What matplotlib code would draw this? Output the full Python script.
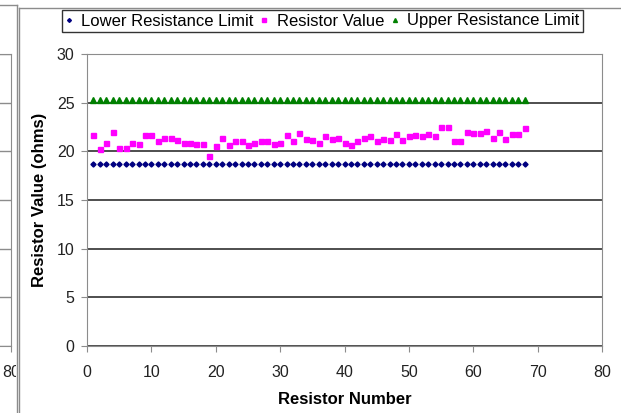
import numpy as np
import matplotlib
matplotlib.use("Agg")
import matplotlib.pyplot as plt
from matplotlib.lines import Line2D
from matplotlib.transforms import Bbox, TransformedBbox

plt.rcParams['font.family'] = ['Liberation Sans', 'DejaVu Sans']

# measured resistors, nominal 22 ohms with +/-15% limits
resistor_number = np.arange(1, 69)
resistor_value = [21.7, 20.2, 20.9, 22.0, 20.35, 20.35, 20.9, 20.75, 21.7, 21.7,
                  21.1, 21.4, 21.4, 21.2, 20.85, 20.85, 20.75, 20.75, 19.5, 20.5,
                  21.4, 20.65, 21.05, 21.1, 20.7, 20.9, 21.1, 21.05, 20.75, 20.85,
                  21.65, 21.05, 21.85, 21.25, 21.15, 20.9, 21.6, 21.3, 21.4, 20.9,
                  20.7, 21.05, 21.35, 21.6, 21.05, 21.25, 21.15, 21.75, 21.15, 21.6,
                  21.7, 21.6, 21.75, 21.6, 22.45, 22.45, 21.1, 21.05, 22.0, 21.85,
                  21.85, 22.1, 21.35, 22.0, 21.3, 21.75, 21.75, 22.35]
lower_limit = [18.7] * 68
upper_limit = [25.3] * 68

x_ticks = [0, 10, 20, 30, 40, 50, 60, 70, 80]
y_ticks = [0, 5, 10, 15, 20, 25, 30]

W, H = 621, 413
grid_col = '#1e1e1e'
frame_col = '#8c8c8c'


def fx(px):
    return px / W


def fy(py):
    return 1 - py / H


fig = plt.figure(figsize=(W / 100, H / 100), dpi=100)

# right edge of the neighbouring chart, only its last tick is on the page
axl = fig.add_axes([fx(11.5 - 515), fy(346), fx(515), 292 / H])
axl.set_xlim(0, 80)
axl.set_ylim(0, 30)
axl.set_xticks([80])
axl.set_yticks(y_ticks)
axl.set_yticklabels([])
axl.grid(axis='y', color=frame_col, lw=1)
for s in axl.spines.values():
    s.set_color(frame_col)
axl.tick_params(axis='x', direction='out', length=4, pad=10, labelsize=11.5,
                colors=frame_col, labelcolor='#222222')
axl.tick_params(axis='y', length=0)
clip = TransformedBbox(Bbox([[0, 0], [fx(15.5), 1]]), fig.transFigure)
for lbl in axl.get_xticklabels():
    lbl.set_clip_box(clip)
    lbl.set_clip_on(True)

# main chart
ax = fig.add_axes([fx(87), fy(346), fx(515), 292 / H])
ax.plot(resistor_number, lower_limit, ls='none', marker='D', ms=2.6,
        color='#000080', label='Lower Resistance Limit')
ax.plot(resistor_number, resistor_value, ls='none', marker='s', ms=3.6,
        color='#ff00ff', label='Resistor Value')
ax.plot(resistor_number, upper_limit, ls='none', marker='^', ms=3.8,
        color='#008000', label='Upper Resistance Limit')

ax.set_xlim(0, 80)
ax.set_ylim(0, 30)
ax.set_xticks(x_ticks)
ax.set_yticks(y_ticks)
ax.grid(axis='y', color=grid_col, lw=1.1)
ax.set_axisbelow(True)
for s in ax.spines.values():
    s.set_color(frame_col)
ax.tick_params(axis='both', direction='out', length=4, labelsize=11.5,
               colors=frame_col, labelcolor='#222222')
ax.tick_params(axis='x', pad=10)
ax.tick_params(axis='y', pad=5)

ax.set_xlabel('Resistor Number', fontsize=12, fontweight='bold', labelpad=8)
ax.set_ylabel('Resistor Value (ohms)', fontsize=12, fontweight='bold', labelpad=7)

leg = ax.legend(loc='center', bbox_to_anchor=(fx(322.5), fy(21)),
                bbox_transform=fig.transFigure, ncol=3, fontsize=12,
                frameon=True, fancybox=False, numpoints=1, markerscale=0.75,
                handlelength=0.4, handletextpad=0.55, columnspacing=0.45,
                borderpad=0.2, borderaxespad=0)
leg.get_frame().set_edgecolor('#000000')
leg.get_frame().set_linewidth(1.0)

# chart area borders
fig.add_artist(Line2D([fx(19), fx(19)], [fy(8), 0], color=frame_col, lw=1))
fig.add_artist(Line2D([fx(19), 1], [fy(8), fy(8)], color=frame_col, lw=1))
fig.add_artist(Line2D([fx(17), fx(17)], [fy(5), 0], color=frame_col, lw=1))
fig.add_artist(Line2D([0, fx(17)], [fy(5), fy(5)], color=frame_col, lw=1))

fig.savefig('out.png', dpi=100)
